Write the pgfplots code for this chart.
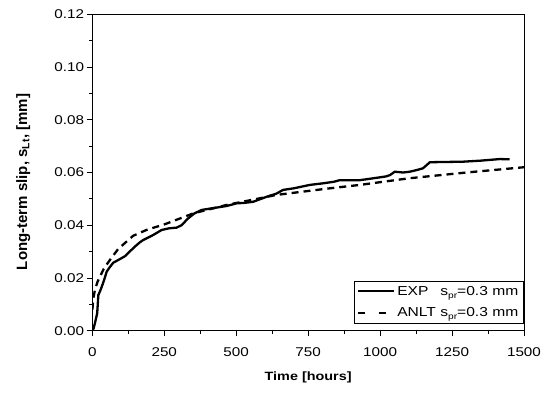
\documentclass[border=0pt]{standalone}
\usepackage{fontspec}
\setmainfont{Liberation Sans}
\usepackage{calc}
\usepackage{pgfplots}
\pgfplotsset{compat=1.18}
\newcommand{\sx}[1]{\scalebox{1.2}[1]{#1}}
\newcommand{\lsub}[1]{\raisebox{-3pt}{\fontsize{8.5}{9}\selectfont #1}}
\begin{document}
\begin{tikzpicture}
\begin{axis}[
  scale only axis,
  width=431.7pt, height=316.4pt,
  xmin=0, xmax=1500, ymin=0, ymax=0.12,
  xtick={0,250,...,1500},
  ytick={0,0.02,0.04,0.06,0.08,0.10,0.12},
  minor x tick num=1, minor y tick num=1,
  tick pos=left, tick align=outside,
  major tick length=5.7pt, minor tick length=3pt,
  axis line style={line width=0.8pt},
  every tick/.style={line width=0.8pt, black},
  /pgf/number format/assume math mode=true,
  xticklabel={\sx{\pgfmathprintnumber[fixed,1000 sep={},assume math mode=true]{\tick}}},
  yticklabel={\sx{\pgfmathprintnumber[fixed,fixed zerofill,precision=2,assume math mode=true]{\tick}}},
  ticklabel style={font=\fontsize{12.7}{14}\selectfont},
  xticklabel style={yshift=-8pt},
  yticklabel style={xshift=1pt},
  scaled y ticks=false,
  xlabel={\sx{\bfseries Time [hours]}},
  ylabel={\bfseries Long-term slip, s\textsubscript{Lt}, [mm]},
  xlabel style={font=\fontsize{12}{14}\selectfont, at={(axis description cs:0.5,-0.146)}, anchor=center},
  ylabel style={font=\fontsize{15}{17}\selectfont, at={(axis description cs:-0.16,0.47)}, anchor=center},
  legend style={at={(0.998,0.024)}, anchor=south east, draw=black, line width=0.6pt,
    font=\fontsize{13}{15}\selectfont, row sep=7pt, inner sep=2.5pt},
  legend cell align=left,
]
\addplot[black, line width=2.3pt,
  legend image code/.code={\draw[black, line width=2pt] (0pt,0pt) -- (36pt,0pt);}] coordinates {
(0,0) (5,0.001) (9,0.0028) (17,0.0066) (21,0.0135) (27,0.015) (33,0.0167)
(41,0.0192) (50,0.0224) (60,0.024) (73,0.0258) (90,0.0268) (114,0.0283)
(130,0.030) (148,0.0319) (165,0.0335) (177,0.0344) (210,0.0362) (241,0.0382)
(265,0.0388) (293,0.0391) (310,0.040) (333,0.0426) (355,0.0445) (380,0.0458)
(420,0.0465) (467,0.0473) (501,0.0483) (530,0.0485) (559,0.0489) (606,0.0508)
(640,0.052) (663,0.0534) (700,0.054) (756,0.0553) (802,0.0559) (840,0.0565)
(860,0.0571) (930,0.0571) (976,0.0578) (1020,0.0585) (1034,0.059) (1051,0.0603)
(1080,0.0600) (1103,0.0603) (1130,0.061) (1149,0.0616) (1173,0.0639) (1230,0.064)
(1288,0.0641) (1350,0.0645) (1416,0.0651) (1450,0.065)
};
\addlegendentry{\sx{\makebox[\widthof{ANLT}][l]{EXP}\ s\lsub{pr}=0.3 mm}}
\addplot[black, line width=2.3pt, dash pattern=on 7pt off 5pt,
  legend image code/.code={\draw[black, line width=2pt] (0pt,0pt) -- (8.5pt,0pt) (20.5pt,0pt) -- (29pt,0pt); \path (36pt,0pt);}] coordinates {
(0.5,0.008) (3,0.012) (9,0.0154) (18,0.0185) (27,0.0206) (40,0.0235) (61,0.0268)
(90,0.031) (142,0.036) (190,0.0383) (250,0.0403) (351,0.0445) (467,0.0477)
(640,0.0515) (825,0.0540) (930,0.0553) (1100,0.0578) (1300,0.0600) (1500,0.0620)
};
\addlegendentry{\sx{ANLT s\lsub{pr}=0.3 mm}}
\end{axis}
\pgfresetboundingbox
\path[use as bounding box] (-92.3pt,-61.3pt) rectangle (454.7pt,330.7pt);
\end{tikzpicture}
\end{document}
